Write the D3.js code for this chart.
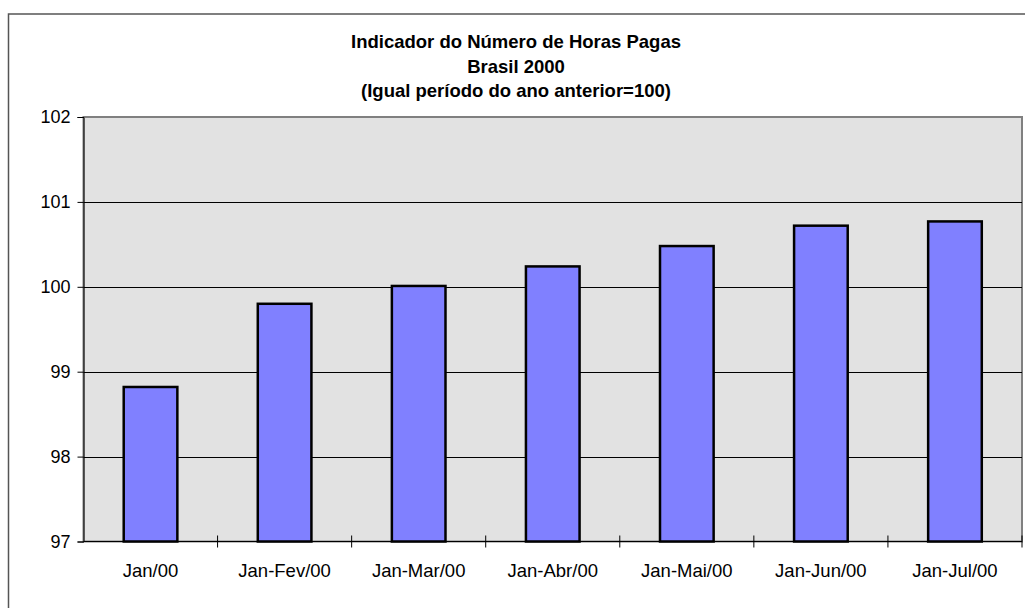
<!DOCTYPE html>
<html><head><meta charset="utf-8">
<script src="https://cdn.jsdelivr.net/npm/d3@7"></script>
<style>body{margin:0;background:#fff;} svg{display:block;}</style>
</head><body>
<script>
const categories = ["Jan/00","Jan-Fev/00","Jan-Mar/00","Jan-Abr/00","Jan-Mai/00","Jan-Jun/00","Jan-Jul/00"];
const values = [98.82, 99.80, 100.01, 100.24, 100.48, 100.72, 100.77];
const yTicks = [97, 98, 99, 100, 101, 102];
const titleLines = ["Indicador do Número de Horas Pagas","Brasil 2000","(Igual período do ano anterior=100)"];

(function () {
const W = 1025, H = 608;
const svg = d3.select("body").append("svg").attr("width", W).attr("height", H);
const font = "'Liberation Sans', Arial, sans-serif";

// outer chart border
svg.append("rect").attr("x", 8.5).attr("y", 14).attr("width", W + 10).attr("height", H + 10)
  .attr("fill", "#fff").attr("stroke", "#555").attr("stroke-width", 1.5);

const pL = 83.5, pR = 1022, pT = 117, pB = 541.5;
const x = d3.scaleBand().domain(categories).range([pL, pR]).paddingInner(0.6).paddingOuter(0.3);
const xb = d3.scaleBand().domain(categories).range([pL, pR]);
const y = d3.scaleLinear().domain([97, 102]).range([pB, pT]);

// plot area
svg.append("rect").attr("x", pL).attr("y", pT).attr("width", pR - pL).attr("height", pB - pT)
  .attr("fill", "#e2e2e2").attr("stroke", "#808080").attr("stroke-width", 2);

// gridlines
svg.append("g").selectAll("line").data(yTicks.slice(1, -1)).join("line")
  .attr("x1", pL).attr("x2", pR)
  .attr("y1", d => Math.round(y(d)) + 0.5).attr("y2", d => Math.round(y(d)) + 0.5)
  .attr("stroke", "#000").attr("stroke-width", 1);

// bars
svg.append("g").selectAll("rect").data(values).join("rect")
  .attr("x", (d, i) => x(categories[i]))
  .attr("width", x.bandwidth())
  .attr("y", d => y(d))
  .attr("height", d => y(97) - y(d))
  .attr("fill", "#8080ff").attr("stroke", "#000").attr("stroke-width", 2.5);

// y axis
const yAxis = svg.append("g").attr("transform", `translate(${pL},0)`)
  .call(d3.axisLeft(y).tickValues(yTicks).tickSize(6).tickPadding(7).tickFormat(d3.format("d")));
yAxis.select(".domain").attr("stroke", "#000");
yAxis.selectAll("text").attr("font-family", font).attr("font-size", 18).attr("fill", "#000");

// x axis
const xAxisG = svg.append("g").attr("transform", `translate(0,${pB})`);
xAxisG.append("line").attr("x1", pL).attr("x2", pR).attr("y1", 0).attr("y2", 0).attr("stroke", "#000");
const tickPos = categories.slice(1).map(d => xb(d)).concat([pR]);
xAxisG.selectAll("line.tk").data(tickPos).join("line").attr("class", "tk")
  .attr("x1", d => d).attr("x2", d => d)
  .attr("y1", -6).attr("y2", 6).attr("stroke", "#000");
xAxisG.selectAll("text").data(categories).join("text")
  .attr("x", d => xb(d) + xb.bandwidth() / 2).attr("y", 35)
  .attr("text-anchor", "middle").attr("font-family", font).attr("font-size", 18.5).text(d => d);

// title
svg.append("g").selectAll("text").data(titleLines).join("text")
  .attr("x", 516).attr("y", (d, i) => 48 + i * 24.5)
  .attr("text-anchor", "middle").attr("font-family", font).attr("font-weight", "bold")
  .attr("font-size", 18.5).text(d => d);
})();
</script>
</body></html>
